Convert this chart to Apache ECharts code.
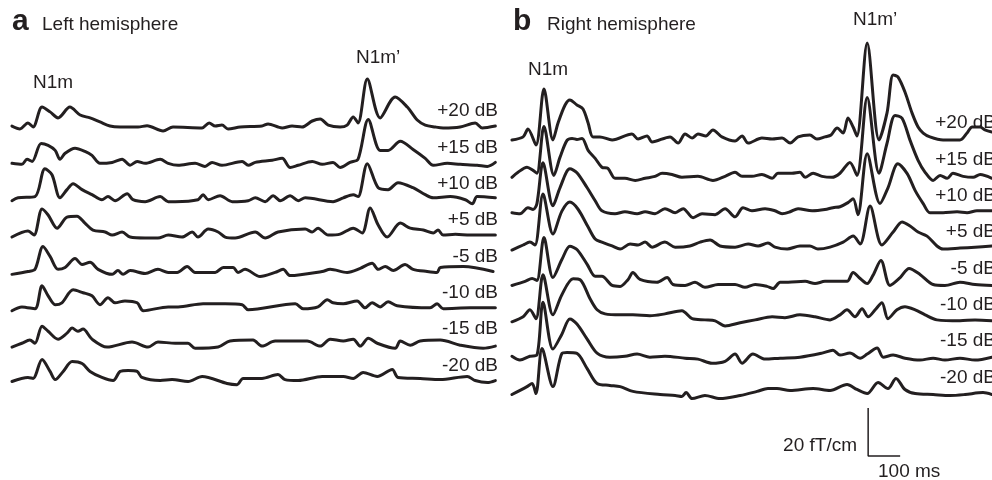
<!DOCTYPE html>
<html>
<head>
<meta charset="utf-8">
<script src="https://cdn.jsdelivr.net/npm/echarts@6/dist/echarts.min.js"></script>
<style>
  html, body { margin: 0; padding: 0; background: #fff; }
  #main { width: 992px; height: 480px; }
</style>
</head>
<body>
<div id="main"></div>
<script>
// stimulus levels, one trace each (top to bottom)
const levels = ['+20 dB', '+15 dB', '+10 dB', '+5 dB', '-5 dB', '-10 dB', '-15 dB', '-20 dB'];

// left hemisphere, [time ms, field fT/cm]
const left20 = [[3,0.4],[28,-0.8],[53,1.7],[69,0],[97,8.3],[122,6.3],[147,3.8],[184,8.3],[216,5],[247,3.8],[278,2.1],[309,0.4],[341,0],[397,0],[425,0.5],[475,-1.7],[506,0],[597,-0.4],[619,1.7],[638,0.4],[659,0.8],[678,-0.8],[716,0],[784,0.4],[803,1.3],[847,-0.4],[878,0.4],[909,0],[941,2.5],[966,3.3],[991,0.8],[1028,0],[1050,0.8],[1069,4.2],[1084,1.7],[1113,20],[1153,3.8],[1200,12.5],[1238,8.3],[1269,2.9],[1294,0.8],[1325,0],[1350,-0.4],[1403,0],[1450,1.7],[1472,-0.4],[1513,0.4]];
const left15 = [[3,0],[34,-0.4],[50,1.7],[66,0.8],[94,8.3],[116,7.5],[138,5.4],[153,1.7],[169,4.2],[200,6.3],[231,5],[253,3.3],[278,0],[316,0.4],[347,1.7],[372,-0.8],[394,0.8],[419,0],[466,1.7],[491,0],[522,-0.8],[575,0],[606,-1.3],[628,0.4],[659,-0.8],[722,0.8],[741,-0.8],[763,0.4],[816,1.3],[847,2.1],[872,-1.7],[897,-0.8],[941,0.8],[972,-0.4],[1006,0.4],[1028,-1.7],[1059,0.4],[1084,1.7],[1116,18.3],[1153,5.4],[1178,5.4],[1216,9.2],[1256,5.8],[1294,2.1],[1319,-0.8],[1363,0],[1403,-0.4],[1456,-0.8],[1488,-1.3],[1513,0.4]];
const left10 = [[3,-0.4],[22,0.8],[75,1.3],[106,12.9],[128,10.4],[153,0.8],[175,4.2],[194,6.7],[222,4.2],[253,2.1],[284,0],[303,1.3],[325,-0.4],[363,2.5],[381,0],[419,-0.8],[466,1.3],[491,-0.8],[513,-0.8],[584,0],[600,2.1],[616,0],[653,1.7],[691,-0.8],[741,-0.4],[763,0.8],[794,-0.8],[819,1.7],[841,-0.4],[872,1.7],[897,-0.4],[919,0.8],[1006,-0.8],[1038,0.8],[1069,2.1],[1084,1.3],[1113,15],[1147,5],[1178,4.2],[1209,7.1],[1256,5],[1294,2.1],[1319,0.8],[1372,1.3],[1419,0],[1441,-1.7],[1456,1.3],[1513,0.8]];
const left5 = [[3,-0.4],[53,2.1],[72,0.4],[97,11.3],[116,8.8],[144,3.3],[175,7.9],[206,8.3],[231,5.4],[256,2.5],[294,1.7],[316,0.4],[347,1.7],[372,-0.4],[419,-0.8],[459,-0.8],[491,0.4],[534,-0.4],[566,1.7],[584,-0.4],[616,2.9],[647,1.7],[669,-0.4],[700,-0.8],[763,1.7],[794,-0.8],[834,1.7],[919,2.9],[941,1.7],[959,3.3],[991,0.4],[1028,0.8],[1069,3.3],[1097,1.3],[1122,11.7],[1147,4.6],[1175,-0.4],[1216,5.4],[1247,3.3],[1288,2.5],[1319,1.3],[1334,2.5],[1350,0.4],[1388,0.8],[1434,0.4],[1513,0.4]];
const leftM5 = [[3,-0.8],[53,0.4],[75,1.3],[100,10.8],[122,6.7],[147,1.3],[169,2.1],[200,5.8],[222,3.3],[247,4.2],[272,1.3],[316,-0.8],[334,0.8],[350,-0.8],[372,0.8],[419,-0.4],[459,1.3],[491,0],[519,0],[550,2.5],[575,0],[638,0],[663,2.1],[694,2.1],[709,0],[731,1.3],[778,-1.7],[825,0],[850,1.3],[872,-1.3],[972,0.4],[997,1.3],[1050,0],[1091,1.7],[1128,3.8],[1147,1.3],[1169,2.5],[1194,0.8],[1231,3.3],[1256,1.3],[1300,0.4],[1331,0],[1341,2.1],[1413,2.5],[1506,0.4]];
const leftM10 = [[3,-0.8],[34,0.8],[75,0],[97,9.6],[116,5.4],[138,1.7],[159,2.5],[194,7.9],[225,6.7],[253,5.4],[278,1.7],[303,4.6],[325,2.5],[356,3.3],[394,2.5],[413,-0.8],[491,0.8],[522,0.8],[600,2.1],[669,2.1],[722,1.7],[741,-0.4],[888,2.1],[913,0],[959,0.8],[988,3.8],[1006,2.5],[1038,2.1],[1081,3.3],[1106,0.4],[1128,2.5],[1153,0.8],[1178,2.9],[1206,1.3],[1309,0.4],[1331,2.1],[1350,0],[1434,0.4],[1513,0.4]];
const leftM15 = [[3,-0.8],[34,0.8],[59,2.1],[75,0.8],[97,7.9],[116,5.8],[147,2.5],[175,5],[191,7.1],[209,5.8],[225,6.7],[253,2.5],[300,-0.8],[378,1.3],[428,-0.8],[459,1.3],[513,0.8],[553,0.8],[575,-1.3],[647,-0.8],[684,1.7],[756,2.1],[784,-0.4],[825,1.7],[925,1.7],[966,-0.4],[997,2.5],[1038,1.7],[1069,2.5],[1091,-0.4],[1116,2.9],[1144,0.8],[1200,-1.3],[1216,1.7],[1247,0],[1278,1.7],[1341,2.1],[1403,0],[1475,-1.3],[1513,-0.4]];
const leftM20 = [[3,0],[53,1.7],[69,1.3],[97,9.2],[122,4.2],[138,0.8],[163,4.2],[191,8.3],[222,7.5],[247,4.2],[284,1.7],[319,0.4],[341,4.2],[366,4.6],[394,4.2],[409,1.7],[466,0.4],[503,0.8],[553,0],[597,2.1],[675,-0.8],[706,-1.3],[725,1.3],[784,1.3],[834,2.9],[856,0.8],[897,0.4],[972,2.1],[1038,2.1],[1069,1.3],[1100,3.8],[1144,2.1],[1191,5],[1209,1.7],[1278,1.3],[1341,0.8],[1425,2.1],[1450,0.4],[1488,-0.4],[1513,0.4]];

// right hemisphere, [time ms, field fT/cm]
const right20 = [[3,0],[38,1.3],[53,4.6],[78,-2.1],[103,21.3],[131,0],[147,7.1],[169,14.6],[184,16.7],[206,14.6],[225,12.9],[241,7.1],[256,1.3],[278,1.3],[316,0],[378,2.5],[397,0.4],[425,1.7],[441,-0.8],[497,1.3],[522,-1.3],[544,2.5],[566,0.8],[584,2.5],[609,1.7],[631,4.2],[659,1.3],[700,-0.4],[722,1.7],[741,-1.3],[784,0.8],[816,0.4],[847,0.8],[872,-1.3],[897,1.3],[934,2.1],[956,0.4],[981,1.3],[1000,2.1],[1019,5],[1038,2.9],[1053,9.2],[1069,5.4],[1081,1.7],[1113,40.4],[1150,0],[1175,11.3],[1194,27.1],[1209,26.3],[1231,20],[1253,11.3],[1272,5.4],[1288,2.9],[1309,1.3],[1350,0],[1403,0],[1425,2.9],[1441,5.4],[1466,5.4],[1481,4.2],[1503,3.3]];
const right15 = [[3,-0.4],[22,1.7],[50,3.8],[69,2.5],[81,1.3],[103,20.8],[134,0.4],[153,7.9],[175,15],[191,15.8],[206,15.4],[222,15.8],[241,10.8],[263,7.5],[284,3.8],[303,3.3],[325,-0.8],[356,-0.8],[388,-1.7],[419,-0.8],[450,0],[472,1.3],[503,0.8],[534,-0.4],[584,0],[631,-1.7],[669,0],[700,1.7],[722,0],[753,0],[784,0.8],[816,-0.8],[834,1.3],[878,1.3],[903,1.7],[919,-0.4],[944,1.3],[972,0],[1003,-0.4],[1028,1.3],[1059,5.8],[1081,0.4],[1113,32.9],[1150,1.3],[1175,13.8],[1200,25.4],[1222,24.2],[1247,15],[1272,6.7],[1294,1.7],[1319,-1.7],[1341,0.4],[1363,-0.8],[1381,1.3],[1413,0],[1444,-0.4],[1466,0.8],[1503,-0.8]];
const right10 = [[3,0],[28,-0.4],[53,2.1],[69,1.3],[81,3.8],[100,20.8],[131,2.9],[153,10.4],[184,18.3],[206,16.7],[238,10.4],[263,5],[284,0.8],[325,-0.4],[356,0.4],[394,-0.4],[419,0.4],[450,-0.4],[481,1.7],[513,0],[538,1.7],[569,-2.1],[597,-0.4],[638,-0.8],[669,1.7],[700,-1.7],[725,2.1],[753,0.8],[794,1.7],[825,0.8],[847,-0.4],[872,0.4],[897,1.7],[941,0.8],[981,1.3],[1006,2.1],[1028,2.5],[1053,4.2],[1069,5.8],[1084,-0.8],[1113,24.6],[1153,3.8],[1178,10.4],[1209,20.4],[1238,16.3],[1263,9.2],[1288,3.8],[1309,0],[1350,0],[1394,0.4],[1425,0],[1456,0.8],[1503,0.8]];
const right5 = [[3,-0.4],[38,1.7],[59,2.9],[75,1.7],[100,22.9],[131,6.3],[159,15.8],[184,19.6],[209,16.7],[241,9.2],[263,4.2],[284,2.9],[316,1.3],[341,0],[372,2.1],[397,1.7],[419,2.9],[441,0.8],[481,2.9],[513,0.8],[559,1.3],[591,2.9],[622,3.8],[653,1.3],[700,0.8],[741,2.1],[772,1.3],[803,2.5],[825,0.8],[863,0],[903,1.3],[934,1.3],[959,0],[997,0.8],[1038,2.9],[1069,5.4],[1091,2.1],[1122,17.9],[1159,1.7],[1194,7.1],[1222,11.3],[1247,9.6],[1272,7.1],[1300,5.4],[1331,1.3],[1350,0],[1403,0.4],[1450,0.8],[1503,1.3]];
const rightM5 = [[3,0],[44,1.7],[66,2.9],[81,2.1],[103,20],[131,3.3],[159,10.8],[184,16.3],[206,15],[238,8.8],[263,3.8],[284,3.8],[316,0],[341,-0.4],[366,2.5],[381,5.4],[403,2.5],[456,1.3],[488,3.3],[506,0.4],[544,0],[575,1.3],[606,-0.8],[647,0.4],[700,0.4],[731,-0.8],[763,0.4],[800,-0.4],[819,-1.3],[841,1.3],[866,1.3],[919,1.7],[950,0.8],[981,1.7],[1006,1.7],[1050,1.7],[1069,5.4],[1091,2.9],[1113,0.8],[1131,4.2],[1156,10.4],[1184,0],[1216,3.3],[1244,7.1],[1278,4.6],[1319,0.4],[1356,0],[1403,1.3],[1450,0.4],[1503,0]];
const rightM10 = [[3,0],[38,2.1],[59,5],[78,1.3],[100,19.6],[131,2.9],[159,11.3],[194,17.9],[216,17.5],[247,9.6],[269,5],[294,3.3],[341,2.9],[381,2.9],[434,2.5],[481,3.3],[534,4.6],[566,1.3],[606,0.8],[638,0.4],[669,-1.7],[716,-0.4],[763,0.8],[816,2.1],[856,1.7],[903,2.9],[950,2.1],[997,0.8],[1028,2.9],[1050,5],[1075,2.1],[1097,5.4],[1116,2.1],[1138,5],[1159,7.9],[1178,1.3],[1206,5],[1231,6.3],[1263,5],[1294,2.9],[1331,0.8],[1403,0.4],[1450,0.8],[1503,0.4]];
const rightM15 = [[3,0.8],[28,-0.8],[59,0.8],[81,1.3],[100,23.3],[131,3.8],[159,10],[184,16.3],[206,14.2],[238,7.9],[269,2.1],[309,0.4],[356,0.8],[394,1.7],[434,0.4],[481,0.8],[544,0],[584,-0.4],[628,-2.1],[669,-1.3],[700,1.7],[722,-2.1],[756,1.7],[794,-0.4],[841,0],[903,0.4],[972,2.1],[1006,3.3],[1028,1.3],[1059,2.1],[1091,0],[1113,1.7],[1144,4.2],[1163,0.4],[1194,1.3],[1231,0],[1278,-0.8],[1319,0],[1356,-0.8],[1403,0],[1450,-0.8],[1503,0.4]];
const rightM20 = [[3,0],[50,3.3],[66,4.6],[78,0.4],[97,19.2],[131,3.3],[159,17.1],[175,17.5],[206,17.1],[238,10.8],[269,4.6],[309,3.8],[341,3.3],[381,1.3],[466,0],[513,-0.4],[534,-0.8],[547,0.8],[566,-1.7],[606,-0.4],[653,-1.7],[716,-0.4],[769,1.3],[803,2.5],[831,2.5],[872,1.7],[944,2.5],[997,1.7],[1050,4.2],[1081,2.1],[1113,0.4],[1147,5],[1178,2.5],[1203,6.7],[1231,2.1],[1263,0.4],[1319,0],[1372,-0.4],[1419,0],[1475,0.8],[1503,0]];

const leftTraces = [left20, left15, left10, left5, leftM5, leftM10, leftM15, leftM20];
const rightTraces = [right20, right15, right10, right5, rightM5, rightM10, rightM15, rightM20];

// scale bar
const scaleMs = 100;
const scaleFT = 20;

const SPACING = 15.15;   // fT/cm between stacked traces
const INK = '#231f20';
const FONT = '"Liberation Sans", Arial, sans-serif';

let chart = echarts.init(document.getElementById('main'), null, { renderer: 'canvas' });

function traceSeries(traces, idx) {
    return traces.map(function (pts, k) {
        return {
            type: 'line',
            xAxisIndex: idx,
            yAxisIndex: idx,
            data: pts.map(p => [p[0], p[1] - k * SPACING]),
            showSymbol: false,
            smooth: 0.3,
            lineStyle: { color: INK, width: 3, join: 'round', cap: 'round' },
            silent: true
        }
    })
}

let series = traceSeries(leftTraces, 0).concat(traceSeries(rightTraces, 1))

// scale bar drawn in right panel coordinates
let barT = 1116, barV = -131.7
series.push({
    type: 'line',
    xAxisIndex: 1,
    yAxisIndex: 1,
    data: [[barT, barV + scaleFT], [barT, barV], [barT + scaleMs, barV]],
    showSymbol: false,
    lineStyle: { color: INK, width: 1.5 },
    silent: true
})

let hiddenX = { type: 'value', show: false, min: 0 }
let hiddenY = { type: 'value', show: false, min: -140, max: 45 }

chart.setOption({
    animation: false,
    backgroundColor: '#fff',
    grid: [
        { left: 11, top: 19, width: 485, height: 444 },
        { left: 511, top: 32, width: 481, height: 444 }
    ],
    xAxis: [Object.assign({}, hiddenX, { gridIndex: 0, max: 1515 }), Object.assign({}, hiddenX, { gridIndex: 1, max: 1503 })],
    yAxis: [Object.assign({}, hiddenY, { gridIndex: 0 }), Object.assign({}, hiddenY, { gridIndex: 1 })],
    series: series
})

// texts
function txt(str, x, y, size, align, bold) {
    return {
        type: 'text',
        x: x,
        y: y,
        silent: true,
        style: {
            text: str,
            fill: INK,
            font: (bold ? 'bold ' : '') + size + 'px ' + FONT,
            textAlign: align || 'left',
            textVerticalAlign: 'middle'
        }
    }
}

let graphics = [
    txt('a', 12, 22, 30, 'left', true),
    txt('Left hemisphere', 42, 25, 19),
    txt('b', 513, 22, 30, 'left', true),
    txt('Right hemisphere', 547, 25, 19),
    txt('N1m', 33, 83, 19),
    txt('N1m\u2019', 356, 58, 19),
    txt('N1m', 528, 70, 19),
    txt('N1m\u2019', 853, 20, 19),
    txt('20 fT/cm', 857, 446, 19, 'right'),
    txt('100 ms', 878, 472, 19)
]

levels.forEach(function (lab, k) {
    let pL = chart.convertToPixel({ xAxisIndex: 0, yAxisIndex: 0 }, [0, -k * SPACING])
    let pR = chart.convertToPixel({ xAxisIndex: 1, yAxisIndex: 1 }, [0, -k * SPACING])
    graphics.push(txt(lab, 498, pL[1] - 16, 19, 'right'))
    graphics.push(txt(lab, 996, pR[1] - 17, 19, 'right'))
})

chart.setOption({ graphic: graphics })
</script>
</body>
</html>
